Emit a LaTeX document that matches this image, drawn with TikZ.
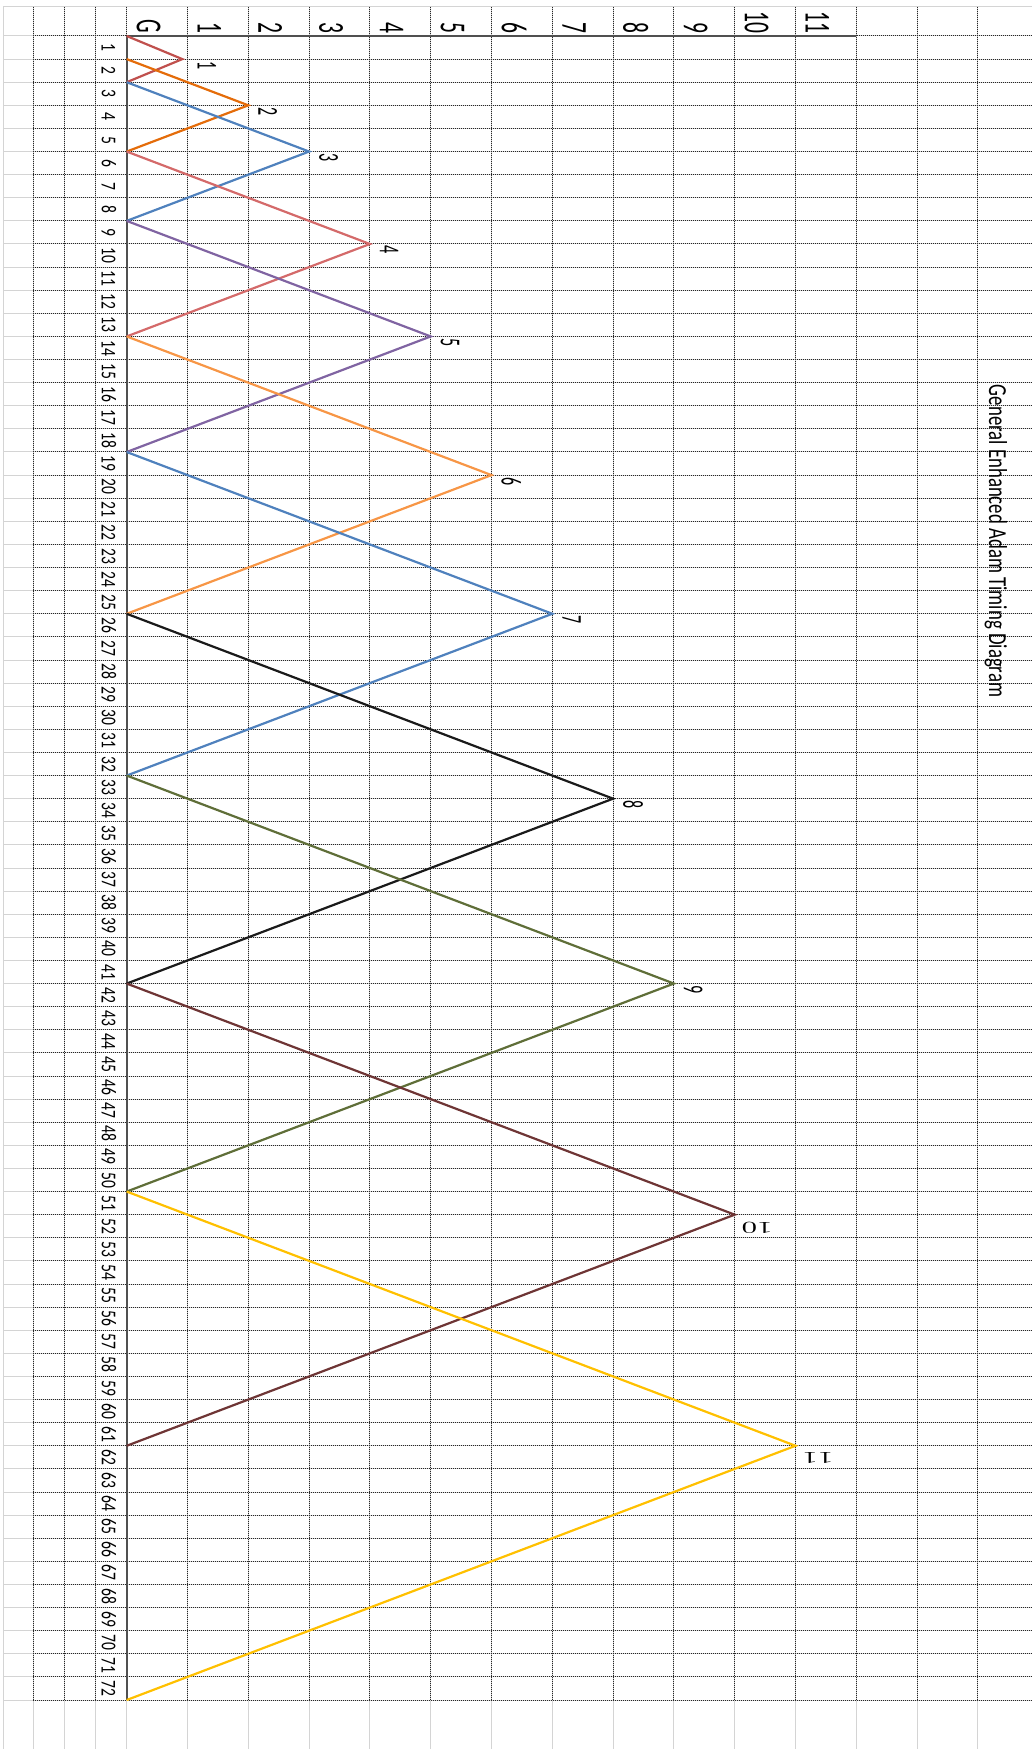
\documentclass[tikz,border=0pt]{standalone}
\usepackage{fontspec}
\setsansfont{Carlito}
\usepackage{graphicx}
\usepackage{tikz}
\usetikzlibrary{positioning}
\usepackage{xcolor}
\definecolor{gridgray}{HTML}{D4D4D4}
\definecolor{axisgray}{HTML}{505050}
\definecolor{lineA}{HTML}{C0504D}
\definecolor{lineB}{HTML}{E46C0A}
\definecolor{lineC}{HTML}{4F81BD}
\definecolor{lineD}{HTML}{D46A6A}
\definecolor{lineE}{HTML}{8064A2}
\definecolor{lineF}{HTML}{F79646}
\definecolor{lineG}{HTML}{5F6E38}
\definecolor{lineH}{HTML}{6E3535}
\definecolor{lineI}{HTML}{FFC000}
\definecolor{lineK}{HTML}{1A1A1A}

% text turned a quarter clockwise, stretched across the line
\newcommand{\sidetext}[3]{\rotatebox{-90}{\scalebox{1}[#2]{\fontsize{#1}{#1}\selectfont #3}}}
% upside down peak numbers
\newcommand{\flipnum}[1]{\rotatebox{180}{\scalebox{1.75}[1]{\rmfamily\fontsize{8.3pt}{8.3pt}\selectfont #1}}}

\begin{document}
\begin{tikzpicture}[x=0.5pt, y=-0.5pt,
    cellgrid/.style={gridgray, line width=0.5pt},
    celldots/.style={black!85, line width=0.5pt, dash pattern=on 0.5pt off 0.5pt},
    axisline/.style={axisgray, line width=1pt},
    series/.style={line width=1.1pt, color=#1},
    lbl/.style={inner sep=0pt, outer sep=0pt, font=\sffamily},
]
\useasboundingbox (0,0) rectangle (1032,1749);

% sheet grid
\draw[cellgrid] (3.3,6.7) -- (1032,6.7);
\foreach \c in {3.3,33.3,64,95}
    \draw[cellgrid] (\c,6.7) -- (\c,1749);
\foreach \k in {0,...,14}
    \draw[cellgrid] ({126.7+60.8*\k},6.7) -- ({126.7+60.8*\k},1749);
\foreach \r in {0,...,72}
    \draw[cellgrid] (3.3,{36+23.111*\r}) -- (1032,{36+23.111*\r});

\foreach \c in {33.3,64,95}
    \draw[celldots] (\c,6.7) -- (\c,1700);
\foreach \k in {0,...,14}
    \draw[celldots] ({126.7+60.8*\k},6.7) -- ({126.7+60.8*\k},1700);
\foreach \r in {0,...,72}
    \draw[celldots] (33.3,{36+23.111*\r}) -- (1032,{36+23.111*\r});

\draw[axisline] (126.7,36) -- (126.7,1700);
\draw[axisline] (126.7,36) -- (856.3,36);

% headers
\node[lbl, anchor=south west] (hG) at (136.7,33) {\sidetext{10.75pt}{1.7}{G}};
\foreach \k in {1,...,11}
    \node[lbl, anchor=south west] (h\k) at ({136.7+60.8*\k},33) {\sidetext{10.75pt}{1.7}{\k}};
\foreach \r in {1,...,72}
    \node[lbl, anchor=west] (row\r) at (101.7,{36+23.111*(\r-0.5)}) {\sidetext{7.8pt}{1.35}{\r}};

\node[lbl, anchor=north] (title) at (996,385) {\sidetext{9.4pt}{1.38}{General Enhanced Adam Timing Diagram}};

% timing zigzags: start row, peak value
\foreach \k/\s/\v/\col in {1/0/0.915/lineA, 2/1/2/lineB, 3/2/3/lineC, 4/5/4/lineD, 5/8/5/lineE, 6/13/6/lineF,
    7/18/7/lineC, 8/25/8/lineK, 9/32/9/lineG, 10/41/10/lineH, 11/50/11/lineI} {
    \coordinate (s\k) at (126.7,{36+23.111*\s});
    \coordinate (p\k) at ({126.7+60.8*\v},{36+23.111*(\s+\k)});
    \coordinate (e\k) at (126.7,{36+23.111*(\s+2*\k)});
    \draw[series=\col] (s\k) -- (p\k) -- (e\k);
}

\foreach \k/\pr in {1/1, 2/3, 3/5, 4/9, 5/13, 6/19, 7/25, 8/33, 9/41}
    \node[lbl, anchor=north west] (n\k) at ({136.7+60.8*\k},{38+23.111*\pr}) {\sidetext{8pt}{1.8}{\k}};
\node[lbl, anchor=north west] (n10) at ([shift={(7,7)}]p10) {\flipnum{10}};
\node[lbl, anchor=north west] (n11) at ([shift={(7,7)}]p11) {\flipnum{11}};

\end{tikzpicture}
\end{document}
